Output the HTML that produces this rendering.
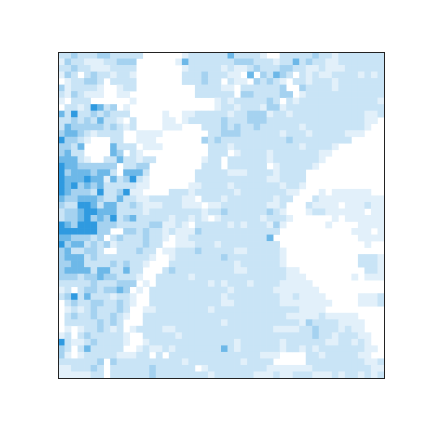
<!DOCTYPE html>
<html><head><meta charset="utf-8"><style>
html,body{margin:0;padding:0;background:#fff;width:432px;height:432px;overflow:hidden}
svg{display:block}
</style></head><body>
<svg id="chart" width="432" height="432" viewBox="0 0 432 432" xmlns="http://www.w3.org/2000/svg">
<g id="cells"></g>
<rect x="58.5" y="52.5" width="326" height="326" fill="none" stroke="#222" stroke-width="1"/>
</svg>
<script>
// Intensity levels (0 = empty, 5 = darkest), left half then right half
const leftRows = [
"2232223322222000000122222","1322111223330000001422222","2232211122220000000122222","1320232212210000000222322",
"0122332022220000000222322","3122221001220000000002222","2132111001100000000002222","1022200000010000000000001",
"0221254230100000000000001","4252232322200000100112222","2232324221020000110122222","2433333232120000111000222",
"3443212222001111000000022","5332100022001110000000323","3324000042220111000000022","3422000043021000000000022",
"4442100224221220000000122","5443333330223300000000222","5344434420444200000002222","5444544142352100000002222",
"5453434222221100000011222","5433325223511000022212222","4334443224221122222110222","3225542442232111222111011",
"2334554442222122222222122",
"2334534352342222212212101","5435553332222233112102222","5555553300332322121113222","4433323023222322101122222",
"5344232312222322001112221","3422332002223220112223222","3444232222222210012222222","3344222232322100022222222",
"3444424422422000232222222","3332334332221002222212222","2222232223330102222222212","1202332334301022222222222",
"2352422212210022222222222","0232233223210022222222222","0121232223200112222222212","0232232232100222222222222",
"0222223232000222222222222","0101223212012222112222222","1202322222100222221222222","5211232222100122222222222",
"3202422222001211212222222","3101222221112202022222222","2222223032222222222122222","1122232022222232222220122",
"1111122022222232222222212"
];
const rightRows = [
"2422221002222232212222222","2233322212242322112222222","1211232223322112111222222","2110403243202121122221212",
"0211032321022122212222222","1102222223003222212222222","2203322223301222222222222","2122222320212222222222221",
"2212221331222222222222222","2122333122122222222222112","3222333222222222222222110","3232232222221222222222100",
"3332222221222122222111000","2222222222322222222200000","2122222222221222210000000","2012222122222221100000000",
"0222222122222221000000000","0222222012222210000000000","2111222212222000000000000","2222222112222000000000000",
"2122222221221000000000000","2212222222110001011111100","1222222212200021111111111","2222222112000211110111211",
"3222222321000122111111011",
"2222221222100000010111111","2121222131000000100001111","2222222220000000000011101","2222222400000000000001111",
"2222222220000000000000100","2211222221000000000000000","3222222221000000000002221","2212222221000000000002221",
"2211222222110000000000221","2222222222111000000010111","1222122221111100000000000","2122222211111110000000000",
"1222222221121111000001112","1122222221111111100001112","2222222222221111000000000","2222222222111112111110000",
"1222222222221322221111000","2222222211112232221211000","2222222222222232212221100","2212222221222222112212100",
"4212222221221212222222110","2222221110000221222221100","2221222200000222222222112","2222222111111122222222211",
"2222211121122211121221212"
];
const levelColors = ["#ffffff","#e2f0fa","#c9e4f6","#a5d2f0","#6db8e8","#2f9ae0"];

const plotX = 58, plotY = 52, plotW = 326, plotH = 326;
const nRows = leftRows.length, nCols = leftRows[0].length + rightRows[0].length;
function xPos(c){ return plotX + c * plotW / nCols; }
function yPos(r){ return plotY + r * plotH / nRows; }
const g = document.getElementById('cells');
const NS = 'http://www.w3.org/2000/svg';
for (let r = 0; r < nRows; r++) {
  const row = leftRows[r] + rightRows[r];
  for (let c = 0; c < row.length; c++) {
    const v = +row[c];
    if (v === 0) continue;
    const rect = document.createElementNS(NS, 'rect');
    rect.setAttribute('x', xPos(c).toFixed(2));
    rect.setAttribute('y', yPos(r).toFixed(2));
    rect.setAttribute('width', (xPos(c+1) - xPos(c) + 0.3).toFixed(2));
    rect.setAttribute('height', (yPos(r+1) - yPos(r) + 0.3).toFixed(2));
    rect.setAttribute('fill', levelColors[v]);
    
    
    g.appendChild(rect);
  }
}
</script>
</body></html>
